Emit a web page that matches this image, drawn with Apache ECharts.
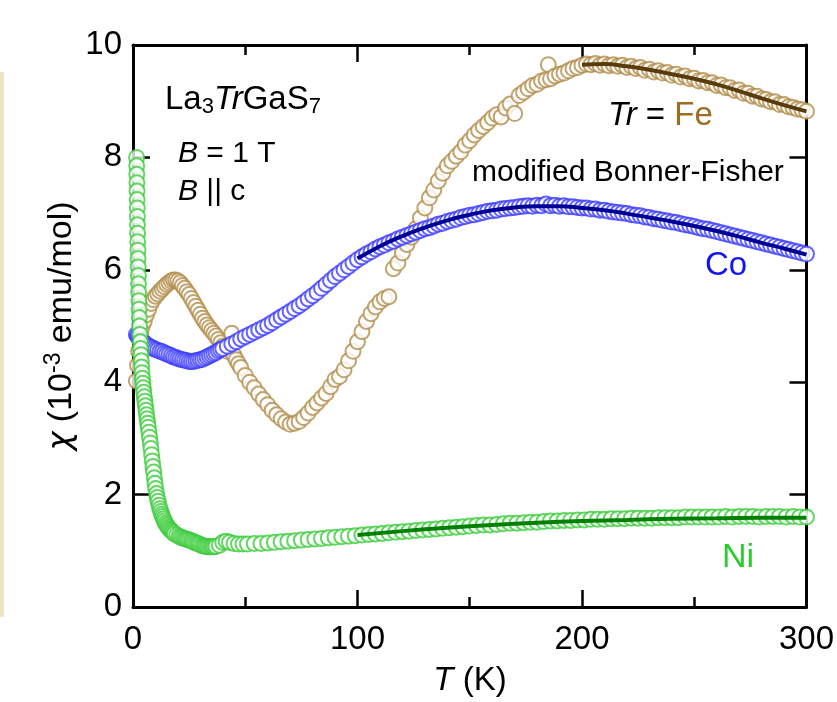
<!DOCTYPE html>
<html lang="en">
<head>
    <meta charset="UTF-8"/>
    <title>La3TrGaS7 susceptibility</title>
    <script src="https://cdn.jsdelivr.net/npm/echarts@6/dist/echarts.min.js"></script>
    <style>
        html, body { margin: 0; padding: 0; background: #fff; }
    </style>
</head>
<body>

<div id="main" style="width:837px; height:702px;"></div>
<script type="text/javascript">

    // T (K), chi (10^-3 emu/mol)
    var feData = [
        [1.5,4.02],[2,4.3],[2.5,4.55],[3,4.75],[3.5,4.88],[4,4.98],[5,5.08],[6,5.2],[7,5.3],[8,5.4],
        [9,5.47],[10,5.53],[11,5.57],[12,5.62],[13,5.66],[14,5.7],[15,5.74],[16,5.77],[17,5.8],[18,5.82],
        [19,5.82],[20,5.8],[21,5.77],[22,5.72],[23,5.67],[24,5.61],[25,5.56],[26,5.49],[27,5.42],[28,5.35],
        [29,5.28],[30,5.21],[31,5.14],[32,5.08],[33,5.02],[34,4.97],[35,4.92],[36,4.87],[37,4.82],[38,4.76],
        [39,4.7],[40,4.64],[41,4.59],[42,4.55],[44,4.87],[45,4.48],[46,4.4],[47,4.33],[48,4.26],[50,4.12],
        [52,4.0],[54,3.9],[56,3.79],[58,3.69],[60,3.6],[62,3.5],[64,3.42],[66,3.35],[68,3.29],[70,3.25],
        [72,3.27],[74,3.3],[76,3.37],[78,3.45],[80,3.55],[82,3.63],[84,3.72],[86,3.8],[88,3.92],[90,4.05],
        [92,4.1],[94,4.22],[96,4.38],[98,4.55],[100,4.72],[102,4.9],[104,5.08],[106,5.22],[108,5.34],[110,5.43],
        [112,5.49],[114,5.52],[116,6.02],[118,6.12],[120,6.3],[122,6.45],[124,6.58],[126,6.73],[128,6.92],[130,7.1],
        [132,7.28],[134,7.42],[136,7.58],[138,7.72],[140,7.85],[142,7.93],[144,8.02],[146,8.1],[148,8.22],[150,8.3],
        [152,8.4],[154,8.48],[156,8.55],[158,8.62],[160,8.7],[162,8.76],[164,8.72],[166,8.88],[168,8.95],[170,8.78],
        [172,9.1],[174,9.16],[176,9.22],[178,9.28],[180,9.3],[182,9.36],[184,9.38],[185,9.65],[186,9.4],[188,9.45],
        [190,9.48],[192,9.5],[194,9.54],[196,9.58],[198,9.6],[200,9.64],[202,9.66],[204,9.65],[206,9.67],[208,9.64],
        [210,9.66],[212,9.63],[214,9.65],[216,9.62],[218,9.64],[220,9.6],[222,9.62],[224,9.58],[226,9.6],[228,9.55],
        [230,9.57],[232,9.52],[234,9.54],[236,9.5],[238,9.51],[240,9.46],[242,9.48],[244,9.43],[246,9.45],[248,9.4],
        [250,9.41],[252,9.36],[254,9.37],[256,9.33],[258,9.33],[260,9.28],[262,9.29],[264,9.24],[266,9.24],[268,9.19],
        [270,9.2],[272,9.14],[274,9.14],[276,9.09],[278,9.09],[280,9.04],[282,9.03],[284,8.99],[286,8.99],[288,8.94],
        [290,8.94],[292,8.9],[294,8.89],[296,8.86],[298,8.85],[300,8.82]
    ];

    var coData = [
        [1.5,4.85],[2,4.82],[2.5,4.8],[3,4.78],[3.5,4.75],[4,4.73],[5,4.7],[6,4.67],[7,4.64],[8,4.62],
        [9,4.6],[10,4.58],[11,4.57],[12,4.55],[13,4.54],[14,4.52],[15,4.5],[16,4.49],[17,4.47],[18,4.45],
        [19,4.44],[20,4.42],[21,4.41],[22,4.4],[23,4.39],[24,4.38],[25,4.37],[26,4.37],[27,4.37],[28,4.38],
        [29,4.39],[30,4.4],[31,4.41],[32,4.43],[33,4.45],[34,4.47],[35,4.49],[36,4.51],[37,4.53],[38,4.56],
        [39,4.58],[40,4.6],[42,4.64],[44,4.68],[46,4.72],[48,4.77],[50,4.81],[52,4.85],[54,4.89],[56,4.93],
        [58,4.97],[60,5.01],[62,5.06],[64,5.11],[66,5.16],[68,5.21],[70,5.26],[72,5.31],[74,5.36],[76,5.42],
        [78,5.48],[80,5.54],[82,5.6],[84,5.67],[86,5.74],[88,5.81],[90,5.88],[92,5.94],[94,6.0],[96,6.06],
        [98,6.12],[100,6.18],[102,6.23],[104,6.28],[106,6.32],[108,6.37],[110,6.41],[112,6.44],[114,6.48],[116,6.51],
        [118,6.55],[120,6.58],[122,6.61],[124,6.64],[126,6.67],[128,6.7],[130,6.73],[132,6.75],[134,6.78],[136,6.81],
        [138,6.83],[140,6.86],[142,6.88],[144,6.9],[146,6.93],[148,6.95],[150,6.97],[152,6.98],[154,7.0],[156,7.02],
        [158,7.04],[160,7.05],[162,7.06],[164,7.08],[166,7.09],[168,7.1],[170,7.11],[172,7.12],[174,7.13],[176,7.14],
        [178,7.13],[180,7.15],[182,7.14],[184,7.17],[186,7.14],[188,7.15],[190,7.13],[192,7.14],[194,7.12],[196,7.12],
        [198,7.11],[200,7.1],[202,7.1],[204,7.08],[206,7.08],[208,7.06],[210,7.06],[212,7.04],[214,7.03],[216,7.02],
        [218,7.01],[220,7.0],[222,6.98],[224,6.97],[226,6.96],[228,6.94],[230,6.93],[232,6.91],[234,6.9],[236,6.88],
        [238,6.87],[240,6.85],[242,6.84],[244,6.82],[246,6.8],[248,6.79],[250,6.77],[252,6.75],[254,6.73],[256,6.72],
        [258,6.7],[260,6.68],[262,6.66],[264,6.64],[266,6.62],[268,6.6],[270,6.58],[272,6.56],[274,6.54],[276,6.52],
        [278,6.5],[280,6.48],[282,6.46],[284,6.44],[286,6.42],[288,6.4],[290,6.38],[292,6.36],[294,6.34],[296,6.32],
        [298,6.3],[300,6.28]
    ];

    var niData = [
        [1.6,8.0],[1.65,7.85],[1.7,7.7],[1.75,7.55],[1.8,7.4],[1.85,7.25],[1.9,7.1],[1.95,6.95],[2.0,6.8],[2.05,6.65],
        [2.1,6.5],[2.2,6.35],[2.25,6.2],[2.3,6.05],[2.4,5.9],[2.45,5.75],[2.5,5.6],[2.6,5.45],[2.7,5.3],[2.8,5.15],
        [2.9,5.0],[3.1,4.85],[3.25,4.72],[3.4,4.6],[3.55,4.49],[3.7,4.38],[3.85,4.27],[4.0,4.17],[4.2,4.07],[4.4,3.98],
        [4.6,3.9],[4.8,3.82],[5.05,3.74],[5.3,3.66],[5.55,3.58],[5.8,3.5],[6.05,3.42],[6.3,3.35],[6.55,3.27],[6.8,3.2],
        [7.1,3.11],[7.4,3.02],[7.7,2.92],[8.0,2.82],[8.3,2.71],[8.6,2.6],[8.9,2.5],[9.2,2.4],[9.5,2.3],[9.8,2.2],
        [10.1,2.11],[10.5,2.02],[10.8,1.95],[11.2,1.88],[11.6,1.81],[12,1.75],[12.4,1.7],[12.8,1.65],[13.2,1.61],[13.6,1.57],
        [14,1.53],[14.5,1.49],[15,1.46],[15.5,1.43],[16,1.4],[16.5,1.38],[17,1.36],[17.5,1.34],[18,1.32],[18.5,1.3],
        [19.5,1.28],[20.5,1.26],[21.2,1.24],[22,1.23],[22.8,1.22],[23.5,1.21],[24.2,1.2],[25,1.19],[25.8,1.18],[26.5,1.17],
        [27.2,1.15],[28,1.14],[28.8,1.13],[29.5,1.12],[30.2,1.1],[31,1.09],[31.8,1.08],[32.5,1.08],[33.2,1.07],[34,1.07],
        [34.8,1.07],[35.5,1.07],[36.2,1.07],[37,1.08],[38.5,1.1],[40,1.15],[41.5,1.17],[43,1.15],[45,1.13],[47,1.12],
        [49,1.12],[51,1.12],[54,1.13],[57,1.13],[60,1.14],[63,1.15],[66,1.16],[69,1.17],[72,1.18],[75,1.19],
        [78,1.2],[81,1.21],[84,1.22],[87,1.23],[90,1.24],[93,1.25],[96,1.26],[99,1.27],[102,1.28],[105,1.29],
        [108,1.3],[111,1.31],[114,1.32],[117,1.33],[120,1.34],[123,1.35],[126,1.36],[129,1.37],[132,1.38],[135,1.39],
        [138,1.4],[141,1.41],[144,1.42],[147,1.43],[150,1.44],[153,1.45],[156,1.46],[159,1.46],[162,1.47],[165,1.48],
        [168,1.49],[171,1.49],[174,1.5],[177,1.51],[180,1.51],[183,1.52],[186,1.53],[189,1.53],[192,1.54],[195,1.54],
        [198,1.55],[201,1.55],[204,1.56],[207,1.56],[210,1.56],[213,1.57],[216,1.57],[219,1.57],[222,1.58],[225,1.58],
        [228,1.58],[231,1.58],[234,1.59],[237,1.59],[240,1.59],[243,1.59],[246,1.6],[249,1.6],[252,1.6],[255,1.6],
        [258,1.6],[261,1.6],[264,1.61],[267,1.6],[270,1.61],[273,1.61],[276,1.61],[279,1.6],[282,1.61],[285,1.61],
        [288,1.61],[291,1.6],[294,1.61],[297,1.6],[300,1.6]
    ];

    // modified Bonner-Fisher fits
    var feFit = [[200,9.65],[210,9.66],[220,9.62],[230,9.56],[240,9.48],[250,9.4],[260,9.3],[270,9.18],[280,9.05],[290,8.93],[300,8.82]];
    var coFit = [[100,6.2],[110,6.42],[120,6.6],[130,6.75],[140,6.88],[150,6.98],[160,7.06],[170,7.11],[180,7.13],[190,7.13],
                 [200,7.1],[210,7.06],[220,7.0],[230,6.93],[240,6.86],[250,6.78],[260,6.69],[270,6.59],[280,6.48],[290,6.38],[300,6.27]];
    var niFit = [[100,1.28],[120,1.35],[140,1.41],[160,1.46],[180,1.5],[200,1.53],[220,1.55],[240,1.57],[260,1.58],[280,1.59],[300,1.59]];

    var FONT = 'Liberation Sans, Arial, sans-serif';

    var myChart = echarts.init(document.getElementById('main'));

    function frameAxis(pos, showLabel, margin, extra) {
        var ax = {
            type: 'value',
            position: pos,
            min: 0,
            axisLine: { show: true, onZero: false, lineStyle: { color: '#000', width: 3 } },
            axisTick: { show: true, inside: true, length: 17, lineStyle: { color: '#000', width: 2.5 } },
            axisLabel: { show: showLabel, margin: margin, color: '#000', fontFamily: FONT, fontSize: 33 },
            splitLine: { show: false }
        };
        for (var k in extra) ax[k] = extra[k];
        return ax;
    }

    var xMinor = { show: true, splitNumber: 2, length: 10, lineStyle: { color: '#000', width: 2.5 } };

    var option = {
        backgroundColor: '#fff',
        animation: false,
        grid: { left: 133, right: 29, top: 45, bottom: 95 },
        xAxis: [
            frameAxis('bottom', true, 16, { max: 300, interval: 100, minorTick: xMinor }),
            frameAxis('top', false, 8, { max: 300, interval: 100, minorTick: xMinor })
        ],
        yAxis: [
            frameAxis('left', true, 11, { max: 10, interval: 2 }),
            frameAxis('right', false, 8, { max: 10, interval: 2 })
        ],
        series: [
            {
                name: 'Fe', type: 'scatter', data: feData,
                symbol: 'emptyCircle', symbolSize: 15,
                itemStyle: { color: '#b28d4a', borderWidth: 1.3 }
            },
            {
                name: 'Co', type: 'scatter', data: coData,
                symbol: 'emptyCircle', symbolSize: 15,
                itemStyle: { color: '#3c3cff', borderWidth: 1.3 }
            },
            {
                name: 'Ni', type: 'scatter', data: niData,
                symbol: 'emptyCircle', symbolSize: 15,
                itemStyle: { color: '#3ccc3c', borderWidth: 1.3 }
            },
            {
                name: 'Fe fit', type: 'line', data: feFit, smooth: true, showSymbol: false, z: 10,
                lineStyle: { color: '#5a3c0c', width: 4 }
            },
            {
                name: 'Co fit', type: 'line', data: coFit, smooth: true, showSymbol: false, z: 10,
                lineStyle: { color: '#000096', width: 4 }
            },
            {
                name: 'Ni fit', type: 'line', data: niFit, smooth: true, showSymbol: false, z: 10,
                lineStyle: { color: '#008000', width: 4 }
            }
        ],
        graphic: [
            { type: 'rect', left: 0, top: 72, shape: { width: 4, height: 545 }, style: { fill: '#ebe7c4' } },
            {
                type: 'text', x: 62, y: 326, rotation: Math.PI / 2,
                style: {
                    text: '{g|\u03c7}{m| (10}{sup|-3}{m| emu/mol)}',
                    align: 'center', verticalAlign: 'middle',
                    rich: {
                        g: { fontFamily: 'DejaVu Sans', fontSize: 32, fontStyle: 'italic', lineHeight: 40, fill: '#000' },
                        m: { fontFamily: FONT, fontSize: 34, lineHeight: 40, fill: '#000' },
                        sup: { fontFamily: FONT, fontSize: 23, lineHeight: 10, verticalAlign: 'top', fill: '#000' }
                    }
                }
            },
            {
                type: 'text', x: 470, y: 681,
                style: {
                    text: '{i|T}{m| (K)}', align: 'center', verticalAlign: 'middle',
                    rich: {
                        i: { fontFamily: FONT, fontSize: 33, fontStyle: 'italic', fill: '#000' },
                        m: { fontFamily: FONT, fontSize: 33, fill: '#000' }
                    }
                }
            },
            {
                type: 'text', x: 165, y: 100,
                style: {
                    text: '{m|La}{s|3}{i|Tr}{m|GaS}{s|7}', verticalAlign: 'middle',
                    rich: {
                        m: { fontFamily: FONT, fontSize: 33, lineHeight: 36, fill: '#000' },
                        i: { fontFamily: FONT, fontSize: 33, lineHeight: 36, fontStyle: 'italic', fill: '#000' },
                        s: { fontFamily: FONT, fontSize: 22, lineHeight: 10, verticalAlign: 'bottom', fill: '#000' }
                    }
                }
            },
            {
                type: 'text', x: 178, y: 154,
                style: {
                    text: '{i|B}{m| = 1 T}', verticalAlign: 'middle',
                    rich: {
                        i: { fontFamily: FONT, fontSize: 30, fontStyle: 'italic', fill: '#000' },
                        m: { fontFamily: FONT, fontSize: 30, fill: '#000' }
                    }
                }
            },
            {
                type: 'text', x: 178, y: 192,
                style: {
                    text: '{i|B}{m| || c}', verticalAlign: 'middle',
                    rich: {
                        i: { fontFamily: FONT, fontSize: 30, fontStyle: 'italic', fill: '#000' },
                        m: { fontFamily: FONT, fontSize: 30, fill: '#000' }
                    }
                }
            },
            {
                type: 'text', x: 608, y: 116,
                style: {
                    text: '{i|Tr}{m| = }{fe|Fe}', verticalAlign: 'middle',
                    rich: {
                        i: { fontFamily: FONT, fontSize: 33, fontStyle: 'italic', fill: '#000' },
                        m: { fontFamily: FONT, fontSize: 33, fill: '#000' },
                        fe: { fontFamily: FONT, fontSize: 33, fill: '#9c6c22' }
                    }
                }
            },
            {
                type: 'text', x: 472, y: 173,
                style: { text: 'modified Bonner-Fisher', verticalAlign: 'middle', fontFamily: FONT, fontSize: 30, fill: '#000' }
            },
            {
                type: 'text', x: 705, y: 266,
                style: { text: 'Co', verticalAlign: 'middle', fontFamily: FONT, fontSize: 33, fill: '#1414f0' }
            },
            {
                type: 'text', x: 722, y: 558,
                style: { text: 'Ni', verticalAlign: 'middle', fontFamily: FONT, fontSize: 34, fill: '#2ccc2c' }
            }
        ]
    };

    myChart.setOption(option);
</script>

</body>
</html>
